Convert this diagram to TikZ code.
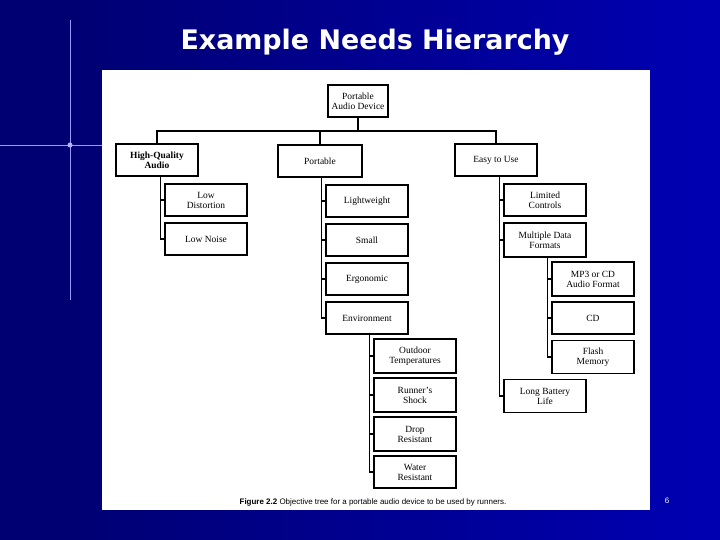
\documentclass[tikz,border=0pt]{standalone}
\usepackage{fontspec}
\setmainfont{Liberation Serif}
\setsansfont{Liberation Sans}
\newfontfamily\titlefont{DejaVu Sans}
\begin{document}
\begin{tikzpicture}[x=1bp,y=-1bp,
    box/.style={draw,line width=1.2pt,minimum width=82bp,minimum height=32bp,align=center,
      font=\fontsize{9.5}{10}\selectfont,inner sep=1pt},
    link/.style={line width=1.4pt}]
  \useasboundingbox (0,0) rectangle (720,540);
  % slide background
  \fill[blue!45!black] (0,0) rectangle (720,540);
  \shade[left color=blue!45!black,right color=blue!70!black] (70,0) rectangle (720,540);
  \draw[white!60!blue,line width=1pt] (70,20)--(70,300) (0,145)--(160,145);
  \fill[white!70!blue] (70,145) circle (2.5);
  \node[white,font=\titlefont\bfseries\fontsize{27}{30}\selectfont] (title) at (375,42) {Example Needs Hierarchy};
  \fill[white] (102,70) rectangle (650,510);
  \node[white,font=\sffamily\fontsize{8}{9}\selectfont] (pg) at (667,501) {6};
  % tree
  \node[box,minimum width=60bp] (root) at (358,101) {Portable\\Audio Device};
  \node[box] (hqa) at (157,160) {\textbf{High-Quality}\\\textbf{Audio}};
  \node[box,minimum width=84bp] (port) at (320,161) {Portable};
  \node[box] (easy) at (496,160) {Easy to Use};
  \node[box] (lowd) at (206,200) {Low\\Distortion};
  \node[box] (lown) at (206,239) {Low Noise};
  \node[box] (light) at (367,201) {Lightweight};
  \node[box] (small) at (367,240) {Small};
  \node[box] (ergo) at (367,279) {Ergonomic};
  \node[box] (env) at (367,318) {Environment};
  \node[box,minimum height=34bp] (outd) at (415,356) {Outdoor\\Temperatures};
  \node[box,minimum height=34bp] (shock) at (415,395) {Runner's\\Shock};
  \node[box,minimum height=34bp] (drop) at (415,434) {Drop\\Resistant};
  \node[box] (water) at (415,472) {Water\\Resistant};
  \node[box] (limc) at (545,200) {Limited\\Controls};
  \node[box,minimum height=34bp] (mdf) at (545,240) {Multiple Data\\Formats};
  \node[box,minimum height=34bp] (mp3) at (593,279) {MP3 or CD\\Audio Format};
  \node[box] (cd) at (593,318) {CD};
  \node[box,minimum height=33bp] (flash) at (593,357) {Flash\\Memory};
  \node[box,minimum height=33bp] (batt) at (545,396) {Long Battery\\Life};
  \coordinate (bus) at (0,131);
  % connectors
  \draw[link] (root.south) -- (root.south |- bus);
  \draw[link] (hqa.north) -- (hqa.north |- bus) -- (easy.north |- bus) -- (easy.north);
  \draw[link] (port.north) -- (port.north |- bus);
  \draw[link] ([xshift=-4]lowd.west |- hqa.south) |- (lown.west);
  \draw[link] ([xshift=-4]lowd.west) -- (lowd.west);
  \draw[link] ([xshift=-4]light.west |- port.south) |- (env.west);
  \foreach \n in {light,small,ergo}
    \draw[link] ([xshift=-4]\n.west) -- (\n.west);
  \draw[link] ([xshift=-4]outd.west |- env.south) |- (water.west);
  \foreach \n in {outd,shock,drop}
    \draw[link] ([xshift=-4]\n.west) -- (\n.west);
  \draw[link] ([xshift=-4]limc.west |- easy.south) |- (batt.west);
  \foreach \n in {limc,mdf}
    \draw[link] ([xshift=-4]\n.west) -- (\n.west);
  \draw[link] ([xshift=-4]mp3.west |- mdf.south) |- (flash.west);
  \foreach \n in {mp3,cd}
    \draw[link] ([xshift=-4]\n.west) -- (\n.west);
  \node[font=\sffamily\fontsize{8}{9}\selectfont] (cap) at (373,502)
    {\textbf{Figure 2.2} Objective tree for a portable audio device to be used by runners.};
\end{tikzpicture}
\end{document}
